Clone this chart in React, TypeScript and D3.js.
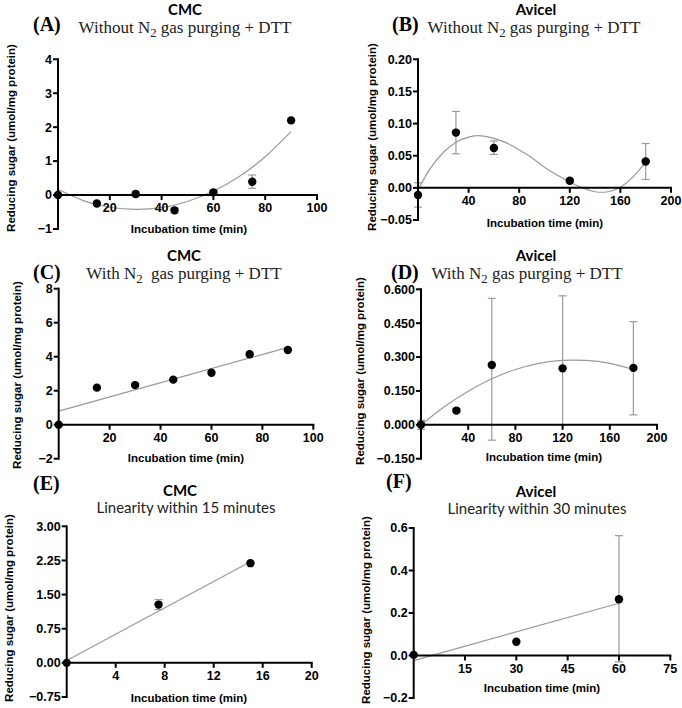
import React from 'react';
import * as d3 from 'd3';

// ---------- Data ----------
// Panel A: CMC, without N2 purging + DTT
const aTime = [0, 15, 30, 45, 60, 75, 90];
const aMean = [0, -0.25, 0.03, -0.45, 0.08, 0.39, 2.2];
const aLow: (number | null)[] = [null, null, -0.05, -0.52, 0.03, 0.2, null];
const aHigh: (number | null)[] = [null, null, 0.11, -0.38, 0.13, 0.59, null];
const aFitX = [0, 10, 20, 30, 40, 50, 60, 70, 80, 90];
const aFitY = [0.17, -0.17, -0.36, -0.42, -0.37, -0.19, 0.12, 0.55, 1.13, 1.87];

// Panel B: Avicel, without N2 purging + DTT
const bTime = [0, 30, 60, 120, 180];
const bMean = [-0.011, 0.086, 0.062, 0.011, 0.041];
const bLow: (number | null)[] = [-0.03, 0.053, 0.052, 0.008, 0.013];
const bHigh: (number | null)[] = [0.008, 0.119, 0.073, 0.014, 0.069];
const bFitX = [0, 10, 20, 30, 40, 50, 60, 70, 80, 90, 100, 110, 120, 130, 140, 150, 160, 170, 180];
const bFitY = [-0.003, 0.031, 0.055, 0.071, 0.079, 0.081, 0.077, 0.07, 0.059, 0.047, 0.032, 0.02, 0.009, 0.0, -0.006, -0.006, 0.001, 0.017, 0.04];

// Panel C: CMC, with N2 purging + DTT
const cTime = [0, 15, 30, 45, 60, 75, 90];
const cMean = [0, 2.18, 2.33, 2.65, 3.06, 4.14, 4.39];
const cLow: (number | null)[] = [null, null, null, null, null, null, null];
const cHigh: (number | null)[] = [null, null, null, null, null, null, null];
const cFitX = [0, 90];
const cFitY = [0.8, 4.55];

// Panel D: Avicel, with N2 purging + DTT
const dTime = [0, 30, 60, 120, 180];
const dMean = [0, 0.063, 0.265, 0.25, 0.252];
const dLow: (number | null)[] = [-0.02, 0.055, -0.068, 0.0, 0.044];
const dHigh: (number | null)[] = [0.02, 0.072, 0.56, 0.571, 0.457];
const dFitX = [0, 20, 40, 60, 80, 100, 120, 140, 160, 180];
const dFitY = [0, 0.081, 0.149, 0.204, 0.245, 0.272, 0.285, 0.285, 0.272, 0.245];

// Panel E: CMC linearity within 15 minutes
const eTime = [0, 7.5, 15];
const eMean = [0, 1.28, 2.19];
const eLow: (number | null)[] = [null, 1.17, null];
const eHigh: (number | null)[] = [null, 1.39, null];
const eFitX = [0, 15];
const eFitY = [0.05, 2.22];

// Panel F: Avicel linearity within 30 minutes
const fTime = [0, 30, 60];
const fMean = [0.003, 0.065, 0.265];
const fLow: (number | null)[] = [null, null, -0.03];
const fHigh: (number | null)[] = [null, null, 0.564];
const fFitX = [0, 60];
const fFitY = [-0.024, 0.246];

// Tick values
const aXTicks = [20, 40, 60, 80, 100];
const aYTicks = [-1, 0, 1, 2, 3, 4];
const bXTicks = [40, 80, 120, 160, 200];
const bYTicks = [-0.05, 0, 0.05, 0.1, 0.15, 0.2];
const cXTicks = [20, 40, 60, 80, 100];
const cYTicks = [-2, 0, 2, 4, 6, 8];
const dXTicks = [40, 80, 120, 160, 200];
const dYTicks = [-0.15, 0, 0.15, 0.3, 0.45, 0.6];
const eXTicks = [4, 8, 12, 16, 20];
const eYTicks = [-0.75, 0, 0.75, 1.5, 2.25, 3.0];
const fXTicks = [15, 30, 45, 60, 75];
const fYTicks = [-0.2, 0, 0.2, 0.4, 0.6];

const X_LABEL = 'Incubation time (min)';
const Y_LABEL = 'Reducing sugar (umol/mg protein)';

const SANS = "'Liberation Sans', Arial, sans-serif";
const SERIF = "'Liberation Serif', 'Times New Roman', serif";
const CAL = "Lato, 'Open Sans', sans-serif";

type PanelProps = {
  letter: string;
  title: string;
  subtitle: React.ReactNode;
  subtitleFont: string;
  subtitleSize: number;
  letterX: number; letterY: number;
  titleX: number; titleY: number;
  subX: number; subY: number;
  x0: number; x1: number; xMax: number;
  yTop: number; yBottom: number; yMin: number; yMax: number;
  xTicks: number[]; yTicks: number[]; yFmt: string;
  time: number[]; mean: number[]; low: (number | null)[]; high: (number | null)[];
  fitX: number[]; fitY: number[];
  yLabX: number; yLabY: number;
  xLabX: number; xLabY: number;
};

function Panel(p: PanelProps) {
  const x = d3.scaleLinear().domain([0, p.xMax]).range([p.x0, p.x1]);
  const y = d3.scaleLinear().domain([p.yMin, p.yMax]).range([p.yBottom, p.yTop]);
  const fmt = d3.format(p.yFmt);
  const y0 = y(0);
  const fitPts: [number, number][] = p.fitX.map((v, i) => [v, p.fitY[i]]);
  const line = d3.line<[number, number]>().x(d => x(d[0])).y(d => y(d[1])).curve(d3.curveNatural);
  const grey = '#9a9a9a';
  return (
    <g>
      <text x={p.letterX} y={p.letterY} fontFamily={SERIF} fontWeight="bold" fontSize={20}>{p.letter}</text>
      <text x={p.titleX} y={p.titleY} textAnchor="middle" fontFamily={CAL} fontWeight="bold" fontSize={15}>{p.title}</text>
      <text x={p.subX} y={p.subY} textAnchor="middle" fontFamily={p.subtitleFont} fontSize={p.subtitleSize} fill="#222">{p.subtitle}</text>
      {/* fit */}
      <path d={line(fitPts) || ''} fill="none" stroke={grey} strokeWidth={1.2} />
      {/* error bars */}
      {p.time.map((t, i) => {
        const lo = p.low[i];
        const hi = p.high[i];
        if (lo == null || hi == null) return null;
        const cx = x(t);
        return (
          <g key={'e' + i} stroke={grey} strokeWidth={1.2}>
            <line x1={cx} x2={cx} y1={y(lo)} y2={y(hi)} />
            <line x1={cx - 4} x2={cx + 4} y1={y(lo)} y2={y(lo)} />
            <line x1={cx - 4} x2={cx + 4} y1={y(hi)} y2={y(hi)} />
          </g>
        );
      })}
      {/* y axis */}
      <line x1={p.x0} x2={p.x0} y1={p.yTop - 1} y2={p.yBottom + 1} stroke="#000" strokeWidth={2} />
      {p.yTicks.map((v, i) => (
        <g key={'yt' + i}>
          <line x1={p.x0 - 5} x2={p.x0} y1={y(v)} y2={y(v)} stroke="#000" strokeWidth={2} />
          <text x={p.x0 - 6} y={y(v)} dy="0.35em" textAnchor="end" fontFamily={SANS} fontWeight="bold" fontSize={12.5}>{fmt(v)}</text>
        </g>
      ))}
      {/* x axis */}
      <line x1={p.x0} x2={p.x1 + 1} y1={y0} y2={y0} stroke="#000" strokeWidth={2} />
      {p.xTicks.map((v, i) => (
        <g key={'xt' + i}>
          <line x1={x(v)} x2={x(v)} y1={y0} y2={y0 + 5} stroke="#000" strokeWidth={2} />
          <text x={x(v)} y={y0 + 17} textAnchor="middle" fontFamily={SANS} fontWeight="bold" fontSize={12.5}>{v}</text>
        </g>
      ))}
      {/* points */}
      {p.time.map((t, i) => (
        <circle key={'p' + i} cx={x(t)} cy={y(p.mean[i])} r={4.2} fill="#000" />
      ))}
      <text x={p.xLabX} y={p.xLabY} textAnchor="middle" fontFamily={SANS} fontWeight="bold" fontSize={11.5}>{X_LABEL}</text>
      <text transform={`translate(${p.yLabX},${p.yLabY}) rotate(-90)`} textAnchor="middle" fontFamily={SANS} fontWeight="bold" fontSize={11.5}>{Y_LABEL}</text>
    </g>
  );
}

const N2 = (
  <tspan fontSize="0.75em" dy="4">2</tspan>
);

export default function App() {
  return (
    <svg width={682} height={708} style={{ position: 'absolute', left: 0, top: 0, background: '#fff' }}>
      <rect width={682} height={708} fill="#fff" />
      <Panel letter="(A)" title="CMC"
        subtitle={<>Without N{N2}<tspan dy="-4"> gas purging + DTT</tspan></>}
        subtitleFont={SERIF} subtitleSize={17}
        letterX={33} letterY={31} titleX={185} titleY={15} subX={185} subY={33}
        x0={58} x1={317} xMax={100} yTop={59.3} yBottom={229} yMin={-1} yMax={4}
        xTicks={aXTicks} yTicks={aYTicks} yFmt="d"
        time={aTime} mean={aMean} low={aLow} high={aHigh} fitX={aFitX} fitY={aFitY}
        yLabX={15} yLabY={138} xLabX={189} xLabY={233} />
      <Panel letter="(B)" title="Avicel"
        subtitle={<>Without N{N2}<tspan dy="-4"> gas purging + DTT</tspan></>}
        subtitleFont={SERIF} subtitleSize={17}
        letterX={392} letterY={31} titleX={536} titleY={15} subX={534} subY={33}
        x0={418} x1={671} xMax={200} yTop={59.3} yBottom={220} yMin={-0.05} yMax={0.2}
        xTicks={bXTicks} yTicks={bYTicks} yFmt=".2f"
        time={bTime} mean={bMean} low={bLow} high={bHigh} fitX={bFitX} fitY={bFitY}
        yLabX={376} yLabY={137} xLabX={545} xLabY={227} />
      <Panel letter="(C)" title="CMC"
        subtitle={<>With N{N2}<tspan dy="-4">{'\u00a0\u00a0'}gas purging + DTT</tspan></>}
        subtitleFont={SERIF} subtitleSize={17}
        letterX={33} letterY={279} titleX={184} titleY={261} subX={184} subY={279}
        x0={58.7} x1={313.3} xMax={100} yTop={288.7} yBottom={458.7} yMin={-2} yMax={8}
        xTicks={cXTicks} yTicks={cYTicks} yFmt="d"
        time={cTime} mean={cMean} low={cLow} high={cHigh} fitX={cFitX} fitY={cFitY}
        yLabX={21} yLabY={375} xLabX={186} xLabY={462} />
      <Panel letter="(D)" title="Avicel"
        subtitle={<>With N{N2}<tspan dy="-4"> gas purging + DTT</tspan></>}
        subtitleFont={SERIF} subtitleSize={17}
        letterX={391} letterY={279} titleX={536} titleY={261} subX={527} subY={279}
        x0={421} x1={657} xMax={200} yTop={289.3} yBottom={458.7} yMin={-0.15} yMax={0.6}
        xTicks={dXTicks} yTicks={dYTicks} yFmt=".3f"
        time={dTime} mean={dMean} low={dLow} high={dHigh} fitX={dFitX} fitY={dFitY}
        yLabX={364} yLabY={371} xLabX={544} xLabY={461} />
      <Panel letter="(E)" title="CMC"
        subtitle={<>Linearity within 15 minutes</>}
        subtitleFont={CAL} subtitleSize={15}
        letterX={33} letterY={490} titleX={180} titleY={496} subX={186} subY={513}
        x0={66.7} x1={311.7} xMax={20} yTop={526.3} yBottom={697} yMin={-0.75} yMax={3}
        xTicks={eXTicks} yTicks={eYTicks} yFmt=".2f"
        time={eTime} mean={eMean} low={eLow} high={eHigh} fitX={eFitX} fitY={eFitY}
        yLabX={13} yLabY={608} xLabX={189} xLabY={702} />
      <Panel letter="(F)" title="Avicel"
        subtitle={<>Linearity within 30 minutes</>}
        subtitleFont={CAL} subtitleSize={15}
        letterX={386} letterY={488} titleX={536} titleY={497} subX={537} subY={514}
        x0={413.7} x1={670.3} xMax={75} yTop={528} yBottom={698} yMin={-0.2} yMax={0.6}
        xTicks={fXTicks} yTicks={fYTicks} yFmt=".1f"
        time={fTime} mean={fMean} low={fLow} high={fHigh} fitX={fFitX} fitY={fFitY}
        yLabX={370} yLabY={610} xLabX={542} xLabY={692} />
    </svg>
  );
}
